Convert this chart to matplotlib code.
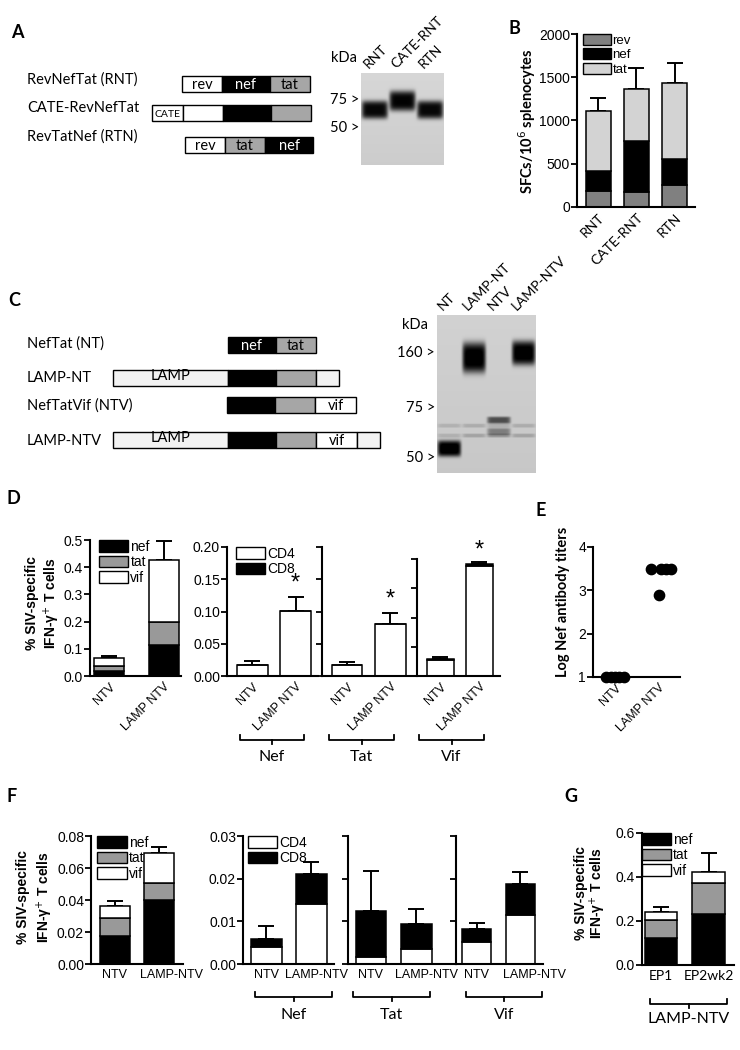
import numpy as np
import matplotlib.pyplot as plt
from matplotlib.patches import Rectangle, Patch
from matplotlib.ticker import FormatStrFormatter
from matplotlib.transforms import ScaledTranslation

# ---- data ----
# A: constructs + blot
a_names = ['RevNefTat (RNT)', 'CATE-RevNefTat', 'RevTatNef (RTN)']
a_parts = [['rev', 'nef', 'tat'], ['CATE', 'rev', 'nef', 'tat'], ['rev', 'tat', 'nef']]
a_labels = [['rev', 'nef', 'tat'], ['CATE', '', '', ''], ['rev', 'tat', 'nef']]
blot_a_lanes = ['RNT', 'CATE-RNT', 'RTN']
blot_a_markers = [75, 50]
blot_a_band_lane = [0, 1, 2]
blot_a_band_kda = [65, 74, 65]
blot_a_band_int = [0.8, 0.82, 0.8]

# B: ELISpot
b_groups = ['RNT', 'CATE-RNT', 'RTN']
b_rev = np.array([180, 170, 250])
b_nef = np.array([240, 590, 310])
b_tat = np.array([695, 600, 870])
b_err = np.array([145, 250, 240])

# C: constructs + blot
c_names = ['NefTat (NT)', 'LAMP-NT', 'NefTatVif (NTV)', 'LAMP-NTV']
c_parts = [['nef', 'tat'], ['LAMP', 'nef', 'tat', 'tail'], ['nef', 'tat', 'vif'],
           ['LAMP', 'nef', 'tat', 'vif', 'tail']]
c_labels = [['nef', 'tat'], ['LAMP', '', '', ''], ['', '', 'vif'], ['LAMP', '', '', 'vif', '']]
blot_c_lanes = ['NT', 'LAMP-NT', 'NTV', 'LAMP-NTV']
blot_c_markers = [160, 75, 50]
blot_c_band_lane = [0, 1, 2, 2, 3, 0, 1, 2, 3, 0, 1, 2, 3]
blot_c_band_kda = [54, 150, 68, 62, 162, 65, 65, 65, 65, 60, 60, 60, 60]
blot_c_band_int = [0.85, 0.85, 0.5, 0.3, 0.85, 0.1, 0.12, 0.1, 0.12, 0.1, 0.15, 0.2, 0.15]

# D
d_groups = ['NTV', 'LAMP NTV']
d_nef = np.array([0.020, 0.113])
d_tat = np.array([0.017, 0.087])
d_vif = np.array([0.030, 0.228])
d_err = np.array([0.007, 0.068])
d_nef_cd4 = np.array([0.017, 0.101]); d_nef_cd8 = np.array([0.0, 0.0]); d_nef_err = np.array([0.006, 0.022])
d_tat_cd4 = np.array([0.017, 0.080]); d_tat_cd8 = np.array([0.0, 0.0]); d_tat_err = np.array([0.004, 0.018])
d_vif_cd4 = np.array([0.028, 0.188]); d_vif_cd8 = np.array([0.001, 0.004]); d_vif_err = np.array([0.003, 0.003])

# E
e_groups = ['NTV', 'LAMP NTV']
e_ntv = [1, 1, 1, 1, 1]
e_lamp = [3.5, 3.5, 3.5, 3.5, 2.9]

# F
f_groups = ['NTV', 'LAMP-NTV']
f_nef = np.array([0.0175, 0.040])
f_tat = np.array([0.011, 0.0105])
f_vif = np.array([0.008, 0.019])
f_err = np.array([0.0028, 0.0036])
f_nef_cd4 = np.array([0.004, 0.014]); f_nef_cd8 = np.array([0.0018, 0.007]); f_nef_err = np.array([0.003, 0.0028])
f_tat_cd4 = np.array([0.0017, 0.0035]); f_tat_cd8 = np.array([0.0107, 0.0059]); f_tat_err = np.array([0.0093, 0.0035])
f_vif_cd4 = np.array([0.0051, 0.0116]); f_vif_cd8 = np.array([0.0031, 0.0072]); f_vif_err = np.array([0.0015, 0.0028])

# G
g_groups = ['EP1', 'EP2wk2']
g_nef = np.array([0.122, 0.231])
g_tat = np.array([0.083, 0.141])
g_vif = np.array([0.038, 0.049])
g_err = np.array([0.020, 0.088])

# ---- styling ----
W, H = 740, 1050
ARIAL = 'Liberation Sans'
CAL = 'Lato'
GRAY = '#999999'
plt.rcParams['font.family'] = ARIAL
plt.rcParams['font.size'] = 9

part_len = {'CATE': 31, 'rev': 40, 'nef': 48, 'tat': 40, 'LAMP': 115, 'vif': 41, 'tail': 23}
part_col = {'CATE': 'white', 'rev': 'white', 'nef': 'black', 'tat': '#a6a6a6',
            'LAMP': '#f2f2f2', 'vif': 'white', 'tail': '#f2f2f2'}
blot_a_sig = [9, 10, 9]
blot_c_sig = [8, 15, 3.5, 3.5, 12] + [2] * 8

fig = plt.figure(figsize=(7.4, 10.5), dpi=100)
ov = fig.add_axes([0, 0, 1, 1])
ov.set_xlim(0, W)
ov.set_ylim(H, 0)
ov.axis('off')


def T(x, y, s, **kw):
    kw.setdefault('family', CAL)
    kw.setdefault('fontsize', 10)
    return ov.text(x, y, s, **kw)


def add_ax(x0, y0, x1, y1):
    return fig.add_axes([x0 / W, 1 - y1 / H, (x1 - x0) / W, (y1 - y0) / H])


def construct(x0, y0, parts, labels, h=15.5):
    x = x0
    for p, lab in zip(parts, labels):
        w = part_len[p]
        ov.add_patch(Rectangle((x, y0), w, h, facecolor=part_col[p], edgecolor='black', lw=1))
        if lab:
            col = 'white' if part_col[p] == 'black' else 'black'
            fs = 7.5 if p == 'CATE' else 10.5
            dy = -2 if p == 'LAMP' else 1.5
            T(x + w / 2, y0 + h / 2 + dy, lab, color=col, ha='center', va='center', fontsize=fs)
        x += w


def kda_frac(k, markers, fracs):
    return np.interp(-np.log10(k), -np.log10(markers), fracs)


def blot(box, lanes, b_lane, b_kda, b_int, b_sig, markers, fracs, bg):
    x0, y0, x1, y1 = box
    ax = add_ax(x0, y0, x1, y1)
    w, h = int(x1 - x0), int(y1 - y0)
    n = len(lanes)
    yy = np.arange(h)[:, None] + 0.5
    xx = (np.arange(w)[None, :] + 0.5) / w * n
    img = np.full((h, w), bg) - 0.04 * yy / h
    for ln, kd, it, s in zip(b_lane, b_kda, b_int, b_sig):
        yc = kda_frac(kd, markers, fracs) * h
        img = img - it * np.exp(-((xx - ln - 0.5) / 0.47) ** 8) * np.exp(-((yy - yc) / s) ** 4)
    ax.imshow(np.clip(img, 0, 1), cmap='gray', vmin=0, vmax=1, aspect='auto',
              extent=(0, n, 1, 0), interpolation='bilinear')
    ax.set_axis_off()
    for m, f in zip(markers, fracs):
        T(x0 - 2, y0 + f * h, f'{m} >', ha='right', va='center', fontsize=10.5)
    for i, name in enumerate(lanes):
        T(x0 + (i + 0.5) * w / n - 5, y0 - 3, name, rotation=45, ha='left', va='bottom',
          rotation_mode='anchor', fontsize=10)


def bar_ax(box, ylim, yticks, xlim, fmt=None, labels=True):
    ax = add_ax(*box)
    ax.set_xlim(xlim)
    ax.set_ylim(ylim)
    for s in ['top', 'right']:
        ax.spines[s].set_visible(False)
    for s in ['left', 'bottom']:
        ax.spines[s].set_linewidth(1.5)
    ax.set_yticks(yticks)
    if fmt:
        ax.yaxis.set_major_formatter(FormatStrFormatter(fmt))
    if not labels:
        ax.set_yticklabels([])
    ax.tick_params(axis='y', direction='out', length=4, width=1.3, labelsize=10, pad=1)
    ax.tick_params(axis='x', length=0, labelsize=9)
    ax.patch.set_visible(False)
    return ax


def stack(ax, layers, colors, err, width):
    x = np.arange(len(err))
    bottom = np.zeros(len(err))
    for vals, c in zip(layers, colors):
        ax.bar(x, vals, width, bottom=bottom, color=c, edgecolor='black', linewidth=1.1, zorder=2)
        bottom = bottom + vals
    ax.errorbar(x, bottom, yerr=[np.zeros(len(err)), err], fmt='none', ecolor='black',
                elinewidth=1.4, capsize=6, capthick=1.4, zorder=1)
    return bottom


def legend(ax, names, colors, anchor, fs=10):
    hs = [Patch(facecolor=c, edgecolor='black', lw=1) for c in colors]
    ax.legend(hs, names, loc='upper left', bbox_to_anchor=anchor, frameon=False, fontsize=fs,
              handlelength=2.1, handleheight=0.9, labelspacing=0.1, handletextpad=0.15,
              borderaxespad=0, borderpad=0)


def shift_second_label(ax, dx):
    lab = ax.get_xticklabels()[1]
    lab.set_transform(lab.get_transform() + ScaledTranslation(dx / 100, 0, fig.dpi_scale_trans))


def bracket(x0, x1, y, label, ly):
    ov.plot([x0, x0, x1, x1], [y - 5, y, y, y - 5], color='black', lw=1.3)
    ov.plot([(x0 + x1) / 2] * 2, [y, y + 4], color='black', lw=1.3)
    T((x0 + x1) / 2, ly, label, ha='center', va='center', fontsize=11.5)


def ylab2(x1, x2, y, fs=10):
    T(x1, y, '% SIV-specific', rotation=90, ha='center', va='center', family=ARIAL,
      fontweight='bold', fontsize=fs)
    T(x2, y, 'IFN-γ$^{+}$ T cells', rotation=90, ha='center', va='center', family=ARIAL,
      fontweight='bold', fontsize=fs)


# ---- panel letters ----
for lt, x, y in [('A', 17, 33), ('B', 514, 29), ('C', 14, 300), ('D', 13, 498),
                 ('E', 541, 510), ('F', 12, 797), ('G', 571, 796)]:
    T(x, y, lt, fontsize=13, fontweight='bold', ha='center', va='center')

# ---- A ----
for name, y in zip(a_names, [80, 108, 137]):
    T(27, y, name, va='center', fontsize=10.5)
for parts, labs, x0, y0 in zip(a_parts, a_labels, [182, 152, 185], [76, 105, 137]):
    construct(x0, y0, parts, labs)
T(344, 58, 'kDa', ha='center', va='center', fontsize=10.5)
blot((361, 73, 444, 165), blot_a_lanes, blot_a_band_lane, blot_a_band_kda, blot_a_band_int,
     blot_a_sig, blot_a_markers, [0.293, 0.595], 0.84)

# ---- B ----
axb = bar_ax((577, 34, 695, 207), (0, 2000), [0, 500, 1000, 1500, 2000], (-0.55, 2.53))
stack(axb, [b_rev, b_nef, b_tat], ['#808080', 'black', '#d3d3d3'], b_err, 0.65)
axb.set_xticks(range(3))
axb.set_xticklabels(b_groups, rotation=45, ha='right', rotation_mode='anchor', family=CAL, fontsize=10)
legend(axb, ['rev', 'nef', 'tat'], ['#808080', 'black', '#d3d3d3'], (0.05, 1.0), fs=9.5)
T(527, 121, 'SFCs/10$^{6}$ splenocytes', rotation=90, ha='center', va='center',
  fontweight='bold', fontsize=10.5)

# ---- C ----
for name, y in zip(c_names, [344, 378, 406, 441]):
    T(27, y, name, va='center', fontsize=10.5)
for parts, labs, x0, y0 in zip(c_parts, c_labels, [228, 113, 227, 113], [337, 370, 397, 432]):
    construct(x0, y0, parts, labs)
T(415, 325, 'kDa', ha='center', va='center', fontsize=10.5)
blot((437, 315, 536, 473), blot_c_lanes, blot_c_band_lane, blot_c_band_kda, blot_c_band_int,
     blot_c_sig, blot_c_markers, [0.24, 0.589, 0.905], 0.82)

# ---- D ----
ylab2(32, 52, 603)
axd1 = bar_ax((90, 540, 181, 676), (0, 0.5), [0, 0.1, 0.2, 0.3, 0.4, 0.5], (-0.35, 1.32), '%.1f')
stack(axd1, [d_nef, d_tat, d_vif], ['black', GRAY, 'white'], d_err, 0.55)
legend(axd1, ['nef', 'tat', 'vif'], ['black', GRAY, 'white'], (0.1, 1.0))

d_boxes = [(227, 547, 318, 676), (322, 547, 415, 676), (417, 559, 500, 676)]
d_xlims = [(-0.59, 1.52), (-0.59, 1.57), (-0.6, 1.53)]
d_cd4 = [d_nef_cd4, d_tat_cd4, d_vif_cd4]
d_cd8 = [d_nef_cd8, d_tat_cd8, d_vif_cd8]
d_errs = [d_nef_err, d_tat_err, d_vif_err]
d_axes = [axd1]
for i in range(3):
    ax = bar_ax(d_boxes[i], (0, 0.2), [0, 0.05, 0.1, 0.15, 0.2], d_xlims[i], '%.2f', labels=(i == 0))
    tops = stack(ax, [d_cd4[i], d_cd8[i]], ['white', 'black'], d_errs[i], 0.7)
    ax.text(1, tops[1] + d_errs[i][1] + 0.02, '*', ha='center', va='center', fontsize=17, clip_on=False)
    d_axes.append(ax)
legend(d_axes[1], ['CD4', 'CD8'], ['white', 'black'], (0.1, 1.0))
for ax in d_axes:
    ax.set_xticks([0, 1])
    ax.set_xticklabels(d_groups, rotation=45, ha='right', va='top', rotation_mode='anchor', fontsize=9)
for (x0, x1), lab in zip([(240, 304), (329, 394), (419, 484)], ['Nef', 'Tat', 'Vif']):
    bracket(x0, x1, 740, lab, 757)

# ---- E ----
axe = bar_ax((593, 547, 680, 677), (1, 4), [1, 2, 3, 4], (-0.5, 1.48), '%d')
axe.scatter(np.array([-0.2, -0.1, 0, 0.1, 0.2]), e_ntv, s=55, color='black', zorder=3, clip_on=False)
axe.scatter(1 + np.array([-0.18, 0.05, 0.16, 0.27, 0.0]), e_lamp, s=55, color='black', zorder=3, clip_on=False)
axe.set_xticks([0, 1])
axe.set_xticklabels(e_groups, rotation=45, ha='right', va='top', rotation_mode='anchor', fontsize=9)
T(563, 602, 'Log Nef antibody titers', rotation=90, ha='center', va='center', fontweight='bold', fontsize=10.5)

# ---- F ----
ylab2(23, 45, 897)
axf1 = bar_ax((91, 836, 183, 964), (0, 0.08), [0, 0.02, 0.04, 0.06, 0.08], (-0.55, 1.56), '%.2f')
stack(axf1, [f_nef, f_tat, f_vif], ['black', GRAY, 'white'], f_err, 0.69)
legend(axf1, ['nef', 'tat', 'vif'], ['black', GRAY, 'white'], (0.07, 1.0))
axf1.set_xticks([0, 1])
axf1.set_xticklabels(f_groups)
shift_second_label(axf1, 13)

f_boxes = [(243, 836, 334, 964), (348, 836, 456, 964), (456, 836, 543, 964)]
f_xlims = [(-0.52, 1.5), (-0.5, 1.87), (-0.48, 1.52)]
f_shift = [5, 10, 14]
f_cd4 = [f_nef_cd4, f_tat_cd4, f_vif_cd4]
f_cd8 = [f_nef_cd8, f_tat_cd8, f_vif_cd8]
f_errs = [f_nef_err, f_tat_err, f_vif_err]
f_axes = []
for i in range(3):
    ax = bar_ax(f_boxes[i], (0, 0.03), [0, 0.01, 0.02, 0.03], f_xlims[i], '%.2f', labels=(i == 0))
    stack(ax, [f_cd4[i], f_cd8[i]], ['white', 'black'], f_errs[i], 0.67)
    ax.set_xticks([0, 1])
    ax.set_xticklabels(f_groups)
    shift_second_label(ax, f_shift[i])
    f_axes.append(ax)
legend(f_axes[0], ['CD4', 'CD8'], ['white', 'black'], (0.05, 1.0))
for (x0, x1), lab in zip([(255, 332), (353, 430), (466, 542)], ['Nef', 'Tat', 'Vif']):
    bracket(x0, x1, 997, lab, 1015)

# ---- G ----
ylab2(581, 598, 893)
axg = bar_ax((642, 833, 734, 965), (0, 0.6), [0, 0.2, 0.4, 0.6], (-0.41, 1.54), '%.1f')
stack(axg, [g_nef, g_tat, g_vif], ['black', GRAY, 'white'], g_err, 0.68)
legend(axg, ['nef', 'tat', 'vif'], ['black', GRAY, 'white'], (0.0, 1.0))
axg.set_xticks([0, 1])
axg.set_xticklabels(g_groups, family=CAL, fontsize=10)
bracket(650, 727, 1004, 'LAMP-NTV', 1019)

fig.savefig('out.png', dpi=100)
